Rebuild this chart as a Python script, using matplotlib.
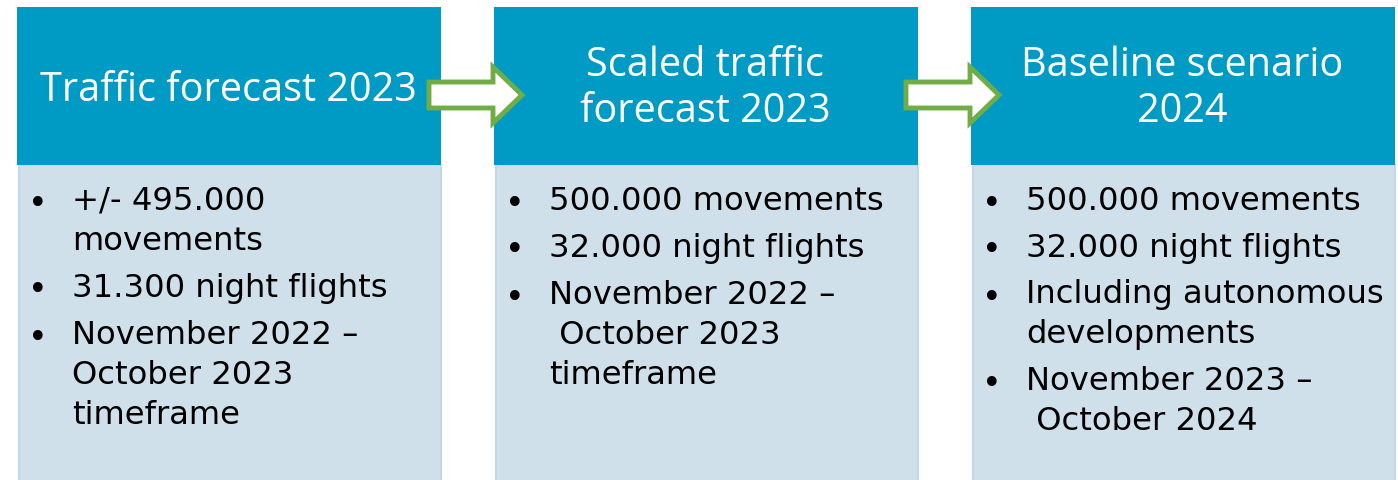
import matplotlib
matplotlib.use("Agg")
import matplotlib.pyplot as plt
from matplotlib.patches import Rectangle, Polygon

# content of the three steps
titles = ["Traffic forecast 2023", "Scaled traffic\nforecast 2023", "Baseline scenario\n2024"]
bullets_1 = [["+/- 495.000", "movements"],
             ["31.300 night flights"],
             ["November 2022 \u2013", "October 2023", "timeframe"]]
bullets_2 = [["500.000 movements"],
             ["32.000 night flights"],
             ["November 2022 \u2013", " October 2023", "timeframe"]]
bullets_3 = [["500.000 movements"],
             ["32.000 night flights"],
             ["Including autonomous", "developments"],
             ["November 2023 \u2013", " October 2024"]]
all_bullets = [bullets_1, bullets_2, bullets_3]

W, H = 1398, 480
HEAD = "#009bc5"
BODY = "#d0e0eb"
GREEN = "#70ad47"

fig = plt.figure(figsize=(W / 100, H / 100), dpi=100)
ax = fig.add_axes([0, 0, 1, 1])
ax.set_xlim(0, W)
ax.set_ylim(H, 0)
ax.axis("off")

box_left = [17, 494, 971]
box_w = 424
head_top, head_bot = 7, 165

for i, x0 in enumerate(box_left):
    ax.add_patch(Rectangle((x0 + 2, head_bot), box_w - 2, H - head_bot + 5,
                           facecolor=BODY, edgecolor="#c4d7e4", lw=1.5))
    ax.add_patch(Rectangle((x0, head_top), box_w, head_bot - head_top,
                           facecolor=HEAD, edgecolor="none"))
    ty = 91 if "\n" not in titles[i] else 89
    ax.text(x0 + box_w / 2 - 1, ty, titles[i], color="white",
            fontsize=28.5, family="Open Sans",
            ha="center", va="center", linespacing=1.17)

    y = 201
    for item in all_bullets[i]:
        ax.text(x0 + 21, y + 3, "\u2022", fontsize=24, ha="center", va="center",
                family="DejaVu Sans", color="black")
        for line in item:
            ax.text(x0 + 55, y, line, fontsize=23.2, ha="left", va="center",
                    family="DejaVu Sans", color="black")
            y += 40
        y += 7

# arrows between boxes
for x0 in box_left[:-1]:
    xa = x0 + box_w - 12
    xb = x0 + box_w + 52
    xt = x0 + box_w + 81
    yc = 95
    pts = [(xa, yc - 13), (xb, yc - 13), (xb, yc - 28), (xt, yc),
           (xb, yc + 28), (xb, yc + 13), (xa, yc + 13)]
    ax.add_patch(Polygon(pts, closed=True, facecolor="white",
                         edgecolor=GREEN, lw=3.5, joinstyle="miter"))

fig.savefig("out.png", dpi=100)
